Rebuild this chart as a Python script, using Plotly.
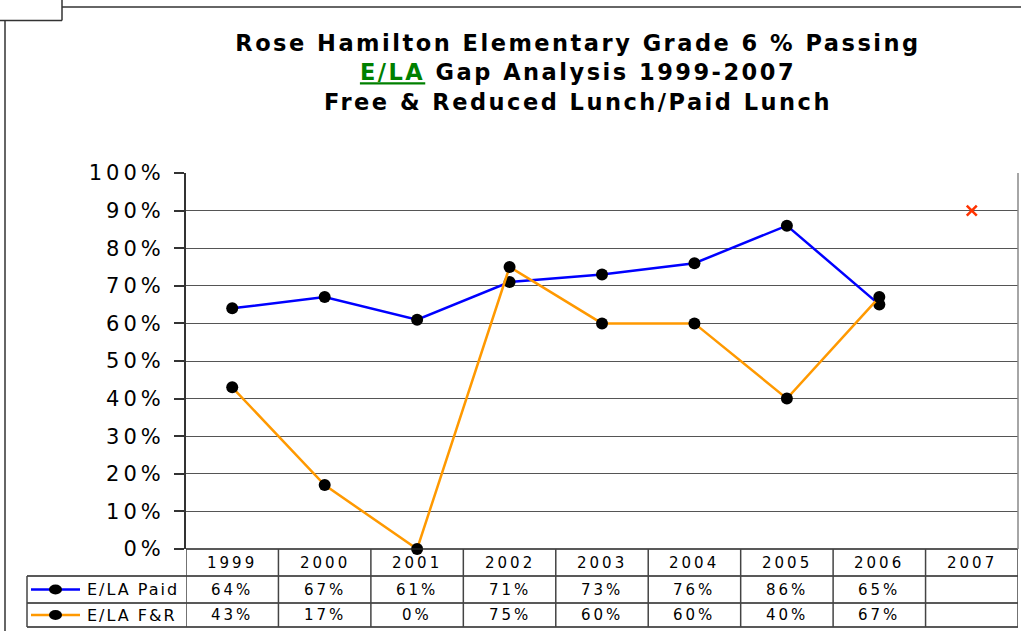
import plotly.graph_objects as go

years = ["1999", "2000", "2001", "2002", "2003", "2004", "2005", "2006", "2007"]
paid = [64, 67, 61, 71, 73, 76, 86, 65, None]
fr = [43, 17, 0, 75, 60, 60, 40, 67, None]
target_year = ["2007"]
target_val = [90]
series_names = ["E/LA Paid", "E/LA F&R"]
series_colors = ["#0000FF", "#FF9900"]
y_ticks = [0, 10, 20, 30, 40, 50, 60, 70, 80, 90, 100]

W, H = 1021, 631
L, R, T, B = 186, 3, 173, 82
PW, PH = W - L - R, H - T - B


def px(x):
    return (x - L) / PW


def py(y):
    return (H - B - y) / PH


def spaced(s, sp):
    return f"<span style='letter-spacing:{sp}px'>{s}</span>"


FONT = "DejaVu Sans"

fig = go.Figure()
for name, vals, col in zip(series_names, [paid, fr], series_colors):
    fig.add_trace(go.Scatter(
        x=years, y=vals, mode="lines+markers", name=name,
        line=dict(color=col, width=2.5),
        marker=dict(color="black", size=12, symbol="circle"),
        cliponaxis=False, showlegend=False,
    ))
fig.add_trace(go.Scatter(
    x=target_year, y=target_val, mode="markers", name="Target",
    marker=dict(color="#FF3300", size=10, symbol="x-thin", line=dict(color="#FF3300", width=2.5)),
    cliponaxis=False, showlegend=False,
))

shapes = []
line_col = "#444444"
row_lines = [549, 576, 603, 627]
for i, yy in enumerate(row_lines):
    x0 = px(186) if i == 0 else px(27)
    shapes.append(dict(type="line", xref="paper", yref="paper", x0=x0, x1=1, y0=py(yy), y1=py(yy),
                       line=dict(color="#222222", width=1.5)))
for i in range(len(years) + 1):
    shapes.append(dict(type="line", xref="x", yref="paper", x0=i - 0.5, x1=i - 0.5,
                       y0=py(549), y1=py(627), line=dict(color=line_col, width=1.5)))
shapes.append(dict(type="line", xref="paper", yref="paper", x0=px(27), x1=px(27),
                   y0=py(576), y1=py(627), line=dict(color=line_col, width=1.5)))
shapes.append(dict(type="line", xref="paper", yref="paper", x0=1, x1=1, y0=0, y1=1,
                   line=dict(color="#888888", width=1.5)))
# outer frame artifacts
shapes.append(dict(type="line", xref="paper", yref="paper", x0=px(5), x1=px(5), y0=py(20), y1=py(631),
                   line=dict(color="#333333", width=1.5)))
shapes.append(dict(type="line", xref="paper", yref="paper", x0=px(0), x1=px(62), y0=py(20.5), y1=py(20.5),
                   line=dict(color="#333333", width=1.5)))
shapes.append(dict(type="line", xref="paper", yref="paper", x0=px(62), x1=px(62), y0=py(0), y1=py(20.5),
                   line=dict(color="#333333", width=1.5)))
shapes.append(dict(type="line", xref="paper", yref="paper", x0=px(62), x1=px(1021), y0=py(7), y1=py(7),
                   line=dict(color="#333333", width=1.5)))

row_centers = [589.5, 615]
for yc, col in zip(row_centers, series_colors):
    shapes.append(dict(type="line", xref="paper", yref="paper", x0=px(31), x1=px(80), y0=py(yc), y1=py(yc),
                       line=dict(color=col, width=2.5)))
    shapes.append(dict(type="circle", xref="paper", yref="paper", x0=px(49), x1=px(62),
                       y0=py(yc + 5), y1=py(yc - 5), fillcolor="black", line=dict(color="black", width=0)))

annotations = []
tfont = dict(family=FONT, size=15, color="black")
for i, yr in enumerate(years):
    annotations.append(dict(x=i, y=py(563), xref="x", yref="paper", text=spaced(yr, 3), showarrow=False,
                            font=tfont, xanchor="center", yanchor="middle"))
for vals, yc in zip([paid, fr], row_centers):
    for i, v in enumerate(vals):
        if v is None:
            continue
        annotations.append(dict(x=i, y=py(yc), xref="x", yref="paper", text=spaced(f"{v}%", 3),
                                showarrow=False, font=tfont, xanchor="center", yanchor="middle"))
for name, yc in zip(series_names, row_centers):
    annotations.append(dict(x=px(85), y=py(yc), xref="paper", yref="paper",
                            text=spaced(name.replace("&", "&amp;"), 2), showarrow=False,
                            font=dict(family=FONT, size=16, color="black"), xanchor="left", yanchor="middle"))

title_text = ("<span style='letter-spacing:2.5px'><b>Rose Hamilton Elementary Grade 6 % Passing</b></span><br>"
              "<span style='letter-spacing:2.5px'><b><span style='color:#008000;text-decoration:underline'>E/LA</span>"
              " Gap Analysis 1999-2007</b></span><br>"
              "<span style='letter-spacing:2.5px'><b>Free &amp; Reduced Lunch/Paid Lunch</b></span>")

fig.update_layout(
    width=W, height=H,
    margin=dict(l=L, r=R, t=T, b=B),
    paper_bgcolor="white", plot_bgcolor="white",
    title=dict(text=title_text, x=578 / W, xanchor="center", xref="container",
               y=1 - 51 / H, yanchor="top", yref="container",
               font=dict(family=FONT, size=22.5, color="black")),
    xaxis=dict(type="category", categoryorder="array", categoryarray=years,
               range=[-0.5, len(years) - 0.5], showticklabels=False, ticks="",
               showgrid=False, zeroline=False, showline=False, fixedrange=True),
    yaxis=dict(range=[0, 100], tickvals=y_ticks, ticktext=[spaced(f"{v}%", 4) for v in y_ticks],
               ticks="outside", ticklen=10, tickcolor="#333333", tickwidth=1.5,
               showline=True, linecolor="#333333", linewidth=2,
               showgrid=True, gridcolor="#555555", gridwidth=1,
               zeroline=False, ticklabelstandoff=5,
               tickfont=dict(family=FONT, size=21, color="black"), fixedrange=True),
    shapes=shapes, annotations=annotations,
    showlegend=False,
)

fig.write_html("out.html", config={"displayModeBar": False},
               post_script="document.body.style.margin='0';document.body.style.overflow='hidden';")
